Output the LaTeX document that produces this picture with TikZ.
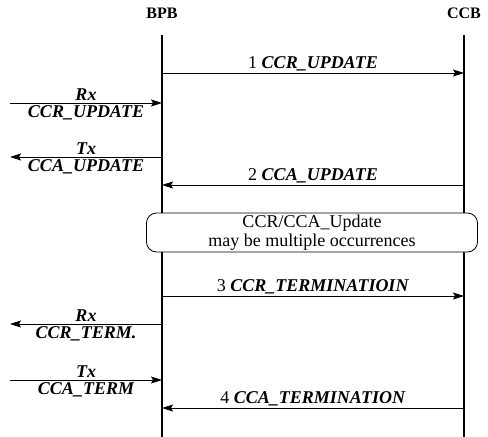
\documentclass[tikz,border=0pt]{standalone}
\usepackage{fontspec}
\setmainfont{Liberation Serif}
\usetikzlibrary{positioning,arrows.meta}
\tikzset{
  msglab/.style={font=\fontsize{18}{20}\selectfont, inner sep=2pt},
  sidelab/.style={font=\fontsize{18}{20}\selectfont\bfseries\itshape, inner sep=2.5pt},
  lifeline/.style={line width=1.2pt},
}
\newcommand{\msgname}[1]{\textbf{\textit{#1}}}
\begin{document}
\begin{tikzpicture}[x=1pt, y=-1pt, line width=0.8pt, >={Stealth[length=11pt,width=7pt,inset=2pt]}]
\useasboundingbox (0,0) rectangle (488,437);
%
\node[font=\fontsize{16}{18}\selectfont\bfseries] (bpb) at (162,13) {BPB};
\node[font=\fontsize{16}{18}\selectfont\bfseries] (ccb) at (464,13) {CCB};
%
\coordinate (bpbtop) at (162,35);
\coordinate (bpbend) at (162,437);
\coordinate (ccbtop) at (464,35);
\coordinate (ccbend) at (464,437);
\draw[lifeline] (bpbtop) -- (bpbend);
\draw[lifeline] (ccbtop) -- (ccbend);
%
\coordinate (b1) at (162,73);   \coordinate (c1) at (464,73);
\coordinate (b2) at (162,185);  \coordinate (c2) at (464,185);
\coordinate (b3) at (162,296);  \coordinate (c3) at (464,296);
\coordinate (b4) at (162,408);  \coordinate (c4) at (464,408);
%
\draw[->] (b1) -- (c1) node[msglab, midway, above] {1 \msgname{CCR\_UPDATE}};
\draw[->] (c2) -- (b2) node[msglab, midway, above] {2 \msgname{CCA\_UPDATE}};
\draw[->] (b3) -- (c3) node[msglab, midway, above] {3 \msgname{CCR\_TERMINATIOIN}};
\draw[->] (c4) -- (b4) node[msglab, midway, above] {4 \msgname{CCA\_TERMINATION}};
%
\coordinate (rxa) at (10,103);  \coordinate (rxb) at (162,103);
\coordinate (txa) at (10,157);  \coordinate (txb) at (162,157);
\coordinate (rxc) at (10,324);  \coordinate (rxd) at (162,324);
\coordinate (txc) at (10,380);  \coordinate (txd) at (162,380);
%
\draw[->] (rxa) -- (rxb) node[sidelab, midway, above] {Rx} node[sidelab, midway, below] {CCR\_UPDATE};
\draw[->] (txb) -- (txa) node[sidelab, midway, above] {Tx} node[sidelab, midway, below] {CCA\_UPDATE};
\draw[->] (rxd) -- (rxc) node[sidelab, midway, above] {Rx} node[sidelab, midway, below] {CCR\_TERM.};
\draw[->] (txc) -- (txd) node[sidelab, midway, above] {Tx} node[sidelab, midway, below] {CCA\_TERM};
%
\node[draw, fill=white, rounded corners=10pt, minimum width=331pt, minimum height=39pt,
      align=center, inner sep=1pt, font=\fontsize{18}{19}\selectfont] (upd) at (312,232.5)
      {CCR/CCA\_Update\\may be multiple occurrences};
%
\end{tikzpicture}
\end{document}
